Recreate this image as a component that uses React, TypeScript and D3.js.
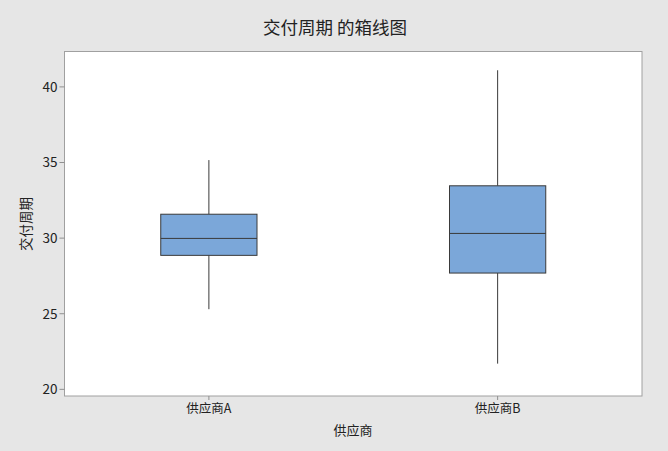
import React from "react";
import * as d3 from "d3";

const categories = ["供应商A", "供应商B"];
const whiskerLow = [25.3, 21.7];
const q1 = [28.86, 27.69];
const median = [29.98, 30.31];
const q3 = [31.58, 33.46];
const whiskerHigh = [35.16, 41.1];
const yTicks = [20, 25, 30, 35, 40];

const W = 668;
const H = 451;
const M = { left: 64.5, right: 26, top: 51.5, bottom: 55 };
const FONT = "'Noto Sans CJK SC', 'Noto Sans', sans-serif";

export default function App() {
  const x = d3
    .scalePoint<string>()
    .domain(categories)
    .range([M.left, W - M.right])
    .padding(0.5);
  const y = d3
    .scaleLinear()
    .domain([19.56, 42.34])
    .range([H - M.bottom, M.top]);
  const boxW = x.step() / 3;
  const bottom = H - M.bottom;

  return (
    <div style={{ position: "absolute", left: 0, top: 0 }}>
      <svg width={W} height={H} style={{ display: "block" }} fontFamily={FONT}>
        <rect x={0} y={0} width={W} height={H} fill="#e6e6e6" />
        <rect
          x={M.left}
          y={M.top}
          width={W - M.left - M.right}
          height={bottom - M.top}
          fill="#ffffff"
          stroke="#a0a0a0"
          strokeWidth={1}
        />
        <text x={335} y={34} textAnchor="middle" fontSize={17.5} fill="#222">
          交付周期 的箱线图
        </text>
        {yTicks.map((t) => (
          <g key={t}>
            <line x1={M.left - 5} x2={M.left} y1={y(t)} y2={y(t)} stroke="#909090" />
            <text
              x={M.left - 7}
              y={y(t)}
              dy="0.36em"
              textAnchor="end"
              fontSize={13.5}
              fill="#222"
            >
              {t}
            </text>
          </g>
        ))}
        {categories.map((c, i) => {
          const cx = x(c)!;
          return (
            <g key={c}>
              <line x1={cx} x2={cx} y1={bottom} y2={bottom + 4} stroke="#909090" />
              <text x={cx} y={bottom + 12} dy="0.36em" textAnchor="middle" fontSize={12.5} fill="#222">
                {c}
              </text>
              <line x1={cx} x2={cx} y1={y(whiskerHigh[i])} y2={y(q3[i])} stroke="#3a3a3a" strokeWidth={1} />
              <line x1={cx} x2={cx} y1={y(q1[i])} y2={y(whiskerLow[i])} stroke="#3a3a3a" strokeWidth={1} />
              <rect
                x={cx - boxW / 2}
                y={y(q3[i])}
                width={boxW}
                height={y(q1[i]) - y(q3[i])}
                fill="#7ba7d9"
                stroke="#3a3a3a"
                strokeWidth={1}
              />
              <line
                x1={cx - boxW / 2}
                x2={cx + boxW / 2}
                y1={y(median[i])}
                y2={y(median[i])}
                stroke="#3a3a3a"
                strokeWidth={1}
              />
            </g>
          );
        })}
        <text x={353} y={430} dy="0.36em" textAnchor="middle" fontSize={13} fill="#222">
          供应商
        </text>
        <text
          transform={`translate(26,224) rotate(-90)`}
          dy="0.36em"
          textAnchor="middle"
          fontSize={13.5}
          fill="#222"
        >
          交付周期
        </text>
      </svg>
    </div>
  );
}
